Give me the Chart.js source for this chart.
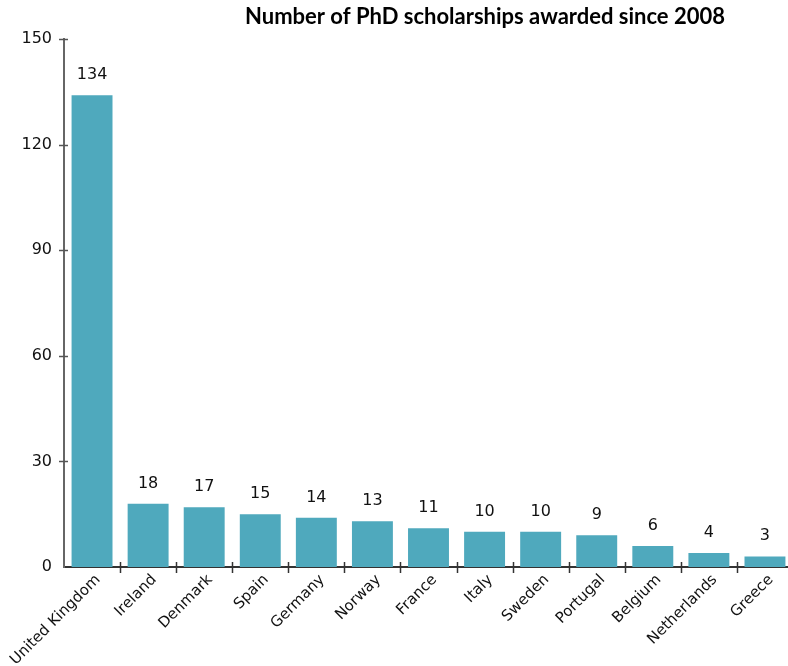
<!DOCTYPE html>
<html>
<head>
<meta charset="utf-8">
<script src="https://cdn.jsdelivr.net/npm/chart.js@4.4.1/dist/chart.umd.min.js"></script>
<style>
  html, body { margin: 0; padding: 0; background: #fff; overflow: hidden; }
  #wrap { width: 793px; height: 666px; position: relative; }
</style>
</head>
<body>
<div id="wrap"><canvas id="chart"></canvas></div>
<script>
const countries = ["United Kingdom", "Ireland", "Denmark", "Spain", "Germany", "Norway", "France",
  "Italy", "Sweden", "Portugal", "Belgium", "Netherlands", "Greece"]
const scholarships = [134, 18, 17, 15, 14, 13, 11, 10, 10, 9, 6, 4, 3]
const yTicks = [0, 30, 60, 90, 120, 150]
const chartTitle = "Number of PhD scholarships awarded since 2008"

const barColor = "#4fa9bd"
const fontFamily = "'DejaVu Sans', Verdana, sans-serif"

// number above each bar, tick marks crossing both axes, title
const decorations = {
  id: "decorations",
  afterDatasetsDraw(chart) {
    const ctx = chart.ctx
    const meta = chart.getDatasetMeta(0)
    ctx.save()
    ctx.fillStyle = "#111"
    ctx.font = "16px " + fontFamily
    ctx.textAlign = "center"
    ctx.textBaseline = "alphabetic"
    meta.data.forEach((bar, i) => {
      ctx.fillText(String(scholarships[i]), bar.x, bar.y - 16)
    })

    const x = chart.scales.x
    const step = x.width / countries.length
    ctx.strokeStyle = "#333"
    ctx.lineWidth = 1.5
    for (let i = 1; i < countries.length; i++) {
      const px = Math.round(x.left + i * step) + 0.5
      ctx.beginPath()
      ctx.moveTo(px, x.top - 5)
      ctx.lineTo(px, x.top + 6)
      ctx.stroke()
    }

    const y = chart.scales.y
    ctx.strokeStyle = "#555"
    yTicks.slice(1).forEach(v => {
      const py = Math.round(y.getPixelForValue(v)) + 0.5
      ctx.beginPath()
      ctx.moveTo(y.right - 5, py)
      ctx.lineTo(y.right + 4, py)
      ctx.stroke()
    })

    ctx.fillStyle = "#000"
    ctx.font = "bold 22px Lato, 'Open Sans', sans-serif"
    ctx.fillText(chartTitle, 485, 24)
    ctx.restore()
  }
}

new Chart(document.getElementById("chart"), {
  type: "bar",
  data: {
    labels: countries,
    datasets: [{
      data: scholarships,
      backgroundColor: barColor,
      barPercentage: 0.73,
      categoryPercentage: 1
    }]
  },
  options: {
    responsive: true,
    maintainAspectRatio: false,
    animation: false,
    layout: { padding: { top: 39, right: 0, left: 0, bottom: 0 } },
    plugins: {
      legend: { display: false },
      tooltip: { enabled: false }
    },
    scales: {
      x: {
        grid: { display: false, drawTicks: false },
        border: { color: "#333", width: 2 },
        ticks: {
          color: "#111",
          font: { family: fontFamily, size: 15 },
          minRotation: 45,
          maxRotation: 45,
          autoSkip: false,
          padding: 4,
          labelOffset: 6
        },
        afterFit(scale) {
          // long rotated labels may run off the left edge
          scale.height = 99
          scale.paddingLeft = 0
          scale.paddingRight = 0
        }
      },
      y: {
        min: 0,
        max: 150,
        afterBuildTicks(scale) { scale.ticks = yTicks.map(v => ({ value: v })) },
        grid: { display: false, drawTicks: false },
        border: { color: "#666", width: 2 },
        ticks: { color: "#111", font: { family: fontFamily, size: 16 }, padding: 12 },
        afterFit(scale) { scale.width = 64 }
      }
    }
  },
  plugins: [decorations]
})
</script>
</body>
</html>
